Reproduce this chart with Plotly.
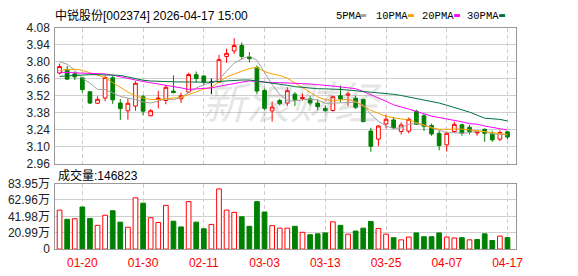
import plotly.graph_objects as go

# ---------------- data ----------------
dates = ["01-15", "01-16", "01-19", "01-20", "01-21", "01-22", "01-23", "01-26", "01-27", "01-28",
         "01-29", "01-30", "02-02", "02-03", "02-04", "02-05", "02-06", "02-09", "02-10", "02-11",
         "02-12", "02-13", "02-24", "02-25", "02-26", "02-27", "03-02", "03-03", "03-04", "03-05",
         "03-06", "03-09", "03-10", "03-11", "03-12", "03-13", "03-16", "03-17", "03-18", "03-19",
         "03-20", "03-23", "03-24", "03-25", "03-26", "03-27", "03-30", "03-31", "04-01", "04-02",
         "04-03", "04-07", "04-08", "04-09", "04-10", "04-13", "04-14", "04-15", "04-16", "04-17"]

opens = [3.707, 3.735, 3.701, 3.668, 3.553, 3.458, 3.501, 3.668, 3.460, 3.396,
         3.435, 3.512, 3.355, 3.490, 3.481, 3.559, 3.495, 3.550, 3.694, 3.683,
         3.632, 3.632, 3.844, 3.890, 3.935, 3.840, 3.753, 3.564, 3.395, 3.481,
         3.460, 3.533, 3.497, 3.494, 3.460, 3.416, 3.398, 3.520, 3.525, 3.500,
         3.490, 3.229, 3.162, 3.287, 3.320, 3.225, 3.228, 3.392, 3.355, 3.274,
         3.210, 3.115, 3.225, 3.280, 3.260, 3.213, 3.243, 3.205, 3.162, 3.222]
highs = [3.785, 3.766, 3.719, 3.676, 3.555, 3.515, 3.686, 3.683, 3.494, 3.500,
         3.640, 3.528, 3.410, 3.560, 3.610, 3.688, 3.546, 3.710, 3.720, 3.690,
         3.662, 3.857, 3.909, 3.995, 3.960, 3.880, 3.770, 3.580, 3.473, 3.495,
         3.590, 3.550, 3.538, 3.520, 3.490, 3.440, 3.520, 3.605, 3.552, 3.520,
         3.495, 3.256, 3.275, 3.362, 3.345, 3.300, 3.340, 3.405, 3.370, 3.290,
         3.230, 3.225, 3.305, 3.290, 3.280, 3.235, 3.250, 3.230, 3.235, 3.230]
lows = [3.696, 3.655, 3.649, 3.546, 3.452, 3.455, 3.475, 3.453, 3.320, 3.322,
        3.397, 3.360, 3.350, 3.416, 3.450, 3.540, 3.460, 3.545, 3.630, 3.610,
        3.533, 3.625, 3.792, 3.865, 3.820, 3.795, 3.533, 3.400, 3.307, 3.440,
        3.435, 3.435, 3.481, 3.440, 3.400, 3.390, 3.390, 3.470, 3.435, 3.410,
        3.300, 3.058, 3.105, 3.250, 3.245, 3.200, 3.210, 3.280, 3.230, 3.190,
        3.070, 3.060, 3.215, 3.190, 3.200, 3.190, 3.140, 3.140, 3.145, 3.160]
closes = [3.761, 3.657, 3.676, 3.571, 3.460, 3.491, 3.670, 3.486, 3.414, 3.458,
          3.623, 3.393, 3.396, 3.500, 3.590, 3.546, 3.520, 3.695, 3.662, 3.631,
          3.632, 3.818, 3.870, 3.935, 3.844, 3.826, 3.559, 3.416, 3.427, 3.455,
          3.562, 3.486, 3.505, 3.460, 3.430, 3.396, 3.512, 3.494, 3.533, 3.425,
          3.307, 3.103, 3.271, 3.326, 3.256, 3.279, 3.326, 3.285, 3.268, 3.205,
          3.110, 3.210, 3.284, 3.212, 3.226, 3.221, 3.210, 3.157, 3.217, 3.180]

ma5 = [3.800, 3.780, 3.730, 3.665, 3.625, 3.572, 3.572, 3.545, 3.515, 3.500,
       3.490, 3.470, 3.460, 3.475, 3.495, 3.487, 3.507, 3.546, 3.585, 3.610,
       3.629, 3.655, 3.725, 3.790, 3.822, 3.848, 3.812, 3.715, 3.612, 3.530,
       3.480, 3.475, 3.488, 3.492, 3.485, 3.458, 3.460, 3.462, 3.470, 3.466,
       3.445, 3.365, 3.310, 3.270, 3.250, 3.255, 3.285, 3.290, 3.278, 3.260,
       3.235, 3.215, 3.215, 3.210, 3.215, 3.228, 3.225, 3.205, 3.203, 3.197]
ma10 = [3.730, 3.735, 3.740, 3.730, 3.710, 3.690, 3.670, 3.630, 3.590, 3.550,
        3.520, 3.500, 3.490, 3.488, 3.495, 3.500, 3.507, 3.530, 3.555, 3.575,
        3.590, 3.635, 3.675, 3.700, 3.725, 3.745, 3.753, 3.720, 3.700, 3.688,
        3.665, 3.625, 3.585, 3.550, 3.510, 3.488, 3.480, 3.485, 3.490, 3.470,
        3.435, 3.400, 3.375, 3.350, 3.338, 3.330, 3.320, 3.300, 3.280, 3.255,
        3.243, 3.243, 3.248, 3.245, 3.238, 3.230, 3.220, 3.210, 3.203, 3.200]
ma20 = [3.714, 3.712, 3.710, 3.710, 3.708, 3.705, 3.700, 3.690, 3.675, 3.662,
        3.650, 3.638, 3.630, 3.617, 3.606, 3.598, 3.585, 3.572, 3.575, 3.579,
        3.585, 3.598, 3.610, 3.622, 3.632, 3.643, 3.638, 3.630, 3.628, 3.628,
        3.627, 3.624, 3.620, 3.617, 3.613, 3.610, 3.600, 3.593, 3.585, 3.578,
        3.555, 3.530, 3.500, 3.475, 3.445, 3.430, 3.410, 3.390, 3.370, 3.352,
        3.340, 3.330, 3.315, 3.305, 3.290, 3.285, 3.270, 3.260, 3.245, 3.237]
ma30 = [3.680, 3.685, 3.690, 3.692, 3.694, 3.694, 3.693, 3.690, 3.688, 3.675,
        3.662, 3.648, 3.642, 3.638, 3.635, 3.635, 3.634, 3.633, 3.633, 3.632,
        3.632, 3.638, 3.644, 3.647, 3.650, 3.650, 3.642, 3.632, 3.625, 3.615,
        3.606, 3.595, 3.588, 3.582, 3.578, 3.577, 3.577, 3.572, 3.567, 3.562,
        3.558, 3.552, 3.545, 3.538, 3.532, 3.522, 3.510, 3.500, 3.490, 3.477,
        3.460, 3.442, 3.425, 3.408, 3.385, 3.360, 3.335, 3.330, 3.325, 3.312]

# volume in 万 (10k) units, and whether the bar is drawn as an "up" (red) bar
volumes = [49.9, 38.1, 38.9, 53.9, 39.3, 30.4, 43.4, 49.1, 34.5, 28.0,
           65.7, 58.8, 40.2, 34.1, 56.0, 35.7, 28.4, 60.8, 34.5, 26.0,
           31.6, 77.1, 49.9, 47.0, 41.4, 29.2, 60.8, 47.5, 30.0, 26.8,
           26.8, 29.2, 21.5, 18.3, 19.5, 20.7, 34.9, 30.4, 19.1, 23.1,
           26.8, 35.3, 26.4, 19.1, 14.6, 11.8, 15.4, 20.7, 15.8, 15.8,
           20.7, 15.4, 14.2, 14.6, 11.8, 12.2, 19.5, 11.0, 16.6, 14.6823]
vol_up = [1, 0, 1, 0, 0, 1, 1, 0, 0, 1,
          1, 0, 1, 1, 1, 0, 0, 1, 0, 0,
          1, 1, 1, 1, 0, 0, 0, 0, 1, 1,
          1, 0, 1, 0, 0, 0, 1, 0, 1, 0,
          0, 0, 1, 1, 0, 1, 1, 0, 0, 0,
          0, 1, 1, 0, 1, 0, 0, 0, 1, 0]

price_ticks = [2.96, 3.10, 3.24, 3.38, 3.52, 3.66, 3.80, 3.94, 4.08]
price_tick_text = ["2.96", "3.10", "3.24", "3.38", "3.52", "3.66", "3.80", "3.94", "4.08"]
vol_ticks = [0, 20.99, 41.98, 62.96, 83.95]
vol_tick_text = ["0", "20.99万", "41.98万", "62.96万", "83.95万"]
date_tick_labels = ["01-20", "01-30", "02-11", "03-03", "03-13", "03-25", "04-07", "04-17"]

title_text = "中锐股份[002374] 2026-04-17 15:00"
vol_title = "成交量:146823"
ma_names = ["5PMA", "10PMA", "20PMA", "30PMA"]

# ---------------- styling ----------------
W, H = 578, 276
RED = "#ff0000"
GREEN = "#008000"
MA_COLORS = ["#a0a0a0", "#f5a300", "#ff00ff", "#006f3c"]
GRID = "#cfcfcf"
FRAME = "#999999"
FONT = "Liberation Sans, Arial, Noto Sans CJK SC, sans-serif"
MONO = "Liberation Mono, Noto Sans CJK SC, monospace"

def fx(px):
    return px / W

def fy(py):
    return 1 - py / H

n = len(dates)
idx = list(range(n))
tick_idx = [dates.index(d) for d in date_tick_labels]
x_lo = -0.56
x_hi = n - 1 + 1.08

fig = go.Figure()

normal = [i for i in idx if opens[i] != closes[i]]
flat = [i for i in idx if opens[i] == closes[i]]

fig.add_trace(go.Candlestick(
    x=normal,
    open=[opens[i] for i in normal], high=[highs[i] for i in normal],
    low=[lows[i] for i in normal], close=[closes[i] for i in normal],
    increasing=dict(line=dict(color=RED, width=1), fillcolor="#ffffff"),
    decreasing=dict(line=dict(color=GREEN, width=1), fillcolor=GREEN),
    whiskerwidth=0, xaxis="x", yaxis="y", showlegend=False, hoverinfo="skip"))
if flat:
    fig.add_trace(go.Candlestick(
        x=flat,
        open=[opens[i] for i in flat], high=[highs[i] for i in flat],
        low=[lows[i] for i in flat], close=[closes[i] for i in flat],
        increasing=dict(line=dict(color="#000000", width=1), fillcolor="#000000"),
        decreasing=dict(line=dict(color="#000000", width=1), fillcolor="#000000"),
        whiskerwidth=0, xaxis="x", yaxis="y", showlegend=False, hoverinfo="skip"))

for vals, col in zip([ma5, ma10, ma20, ma30], MA_COLORS):
    fig.add_trace(go.Scatter(x=idx, y=vals, mode="lines",
                             line=dict(color=col, width=1),
                             xaxis="x", yaxis="y", showlegend=False, hoverinfo="skip"))

fig.add_trace(go.Bar(
    x=idx, y=volumes, width=0.62,
    marker=dict(color=["#ffffff" if u else GREEN for u in vol_up],
                line=dict(color=[RED if u else GREEN for u in vol_up], width=1)),
    xaxis="x2", yaxis="y2", showlegend=False, hoverinfo="skip"))

dom_x = [fx(56), fx(522)]
common_x = dict(domain=dom_x, range=[x_lo, x_hi], tickvals=tick_idx,
                showgrid=True, gridcolor=GRID, griddash="4px,3px", gridwidth=1,
                zeroline=False, showline=True, linecolor=FRAME, linewidth=1,
                mirror=True, ticks="", fixedrange=True)

fig.update_layout(
    width=W, height=H, margin=dict(l=0, r=0, t=0, b=0),
    paper_bgcolor="#ffffff", plot_bgcolor="#ffffff",
    showlegend=False, boxgap=0.3,
    xaxis=dict(**common_x, anchor="y", showticklabels=False,
               rangeslider=dict(visible=False)),
    xaxis2=dict(**common_x, anchor="y2", ticktext=date_tick_labels,
                tickfont=dict(family=FONT, size=12, color=RED),
                ticklabelstandoff=3),
    yaxis=dict(domain=[fy(165), fy(22)], range=[price_ticks[0], price_ticks[-1]],
               tickvals=price_ticks, ticktext=price_tick_text,
               tickfont=dict(family=FONT, size=12, color="#222222"),
               showgrid=True, gridcolor=GRID, zeroline=False, showline=True,
               linecolor=FRAME, mirror=True, ticks="", ticklabelstandoff=2,
               fixedrange=True),
    yaxis2=dict(domain=[fy(255), fy(186)], range=[0, vol_ticks[-1]],
                tickvals=vol_ticks, ticktext=vol_tick_text,
                tickfont=dict(family=FONT, size=12, color="#222222"),
                showgrid=True, gridcolor=GRID, zeroline=False, showline=True,
                linecolor=FRAME, mirror=True, ticks="", ticklabelstandoff=2,
                fixedrange=True),
)

annotations = [
    dict(text="<i>新浪财经</i>", x=fx(296), y=fy(98), xref="paper", yref="paper",
         showarrow=False, font=dict(family="Noto Sans CJK SC", size=44,
                                    color="rgba(140,140,140,0.22)"),
         xanchor="center", yanchor="middle"),
    dict(text=title_text, x=fx(54), y=fy(9), xref="paper", yref="paper",
         showarrow=False, font=dict(family=FONT, size=12, color="#000000"),
         xanchor="left", yanchor="middle"),
    dict(text=vol_title, x=fx(56.5), y=fy(177), xref="paper", yref="paper",
         showarrow=False, font=dict(family=FONT, size=12, color="#000000"),
         xanchor="left", yanchor="middle"),
]
legend_x = [338.0, 379.0, 425.0, 470.5]
swatch_x = [364.7, 413.0, 459.7, 505.3]
shapes = []
for name, lx, sx, col in zip(ma_names, legend_x, swatch_x, MA_COLORS):
    annotations.append(dict(text=name, x=fx(lx), y=fy(9), xref="paper", yref="paper",
                            showarrow=False, font=dict(family=MONO, size=10.5, color="#000000"),
                            xanchor="left", yanchor="middle"))
    shapes.append(dict(type="rect", xref="paper", yref="paper",
                       x0=fx(sx), x1=fx(sx + 6), y0=fy(10.5), y1=fy(7.5),
                       fillcolor=col, line=dict(width=0)))

fig.update_layout(annotations=annotations, shapes=shapes)

fig.write_html("out.html")
